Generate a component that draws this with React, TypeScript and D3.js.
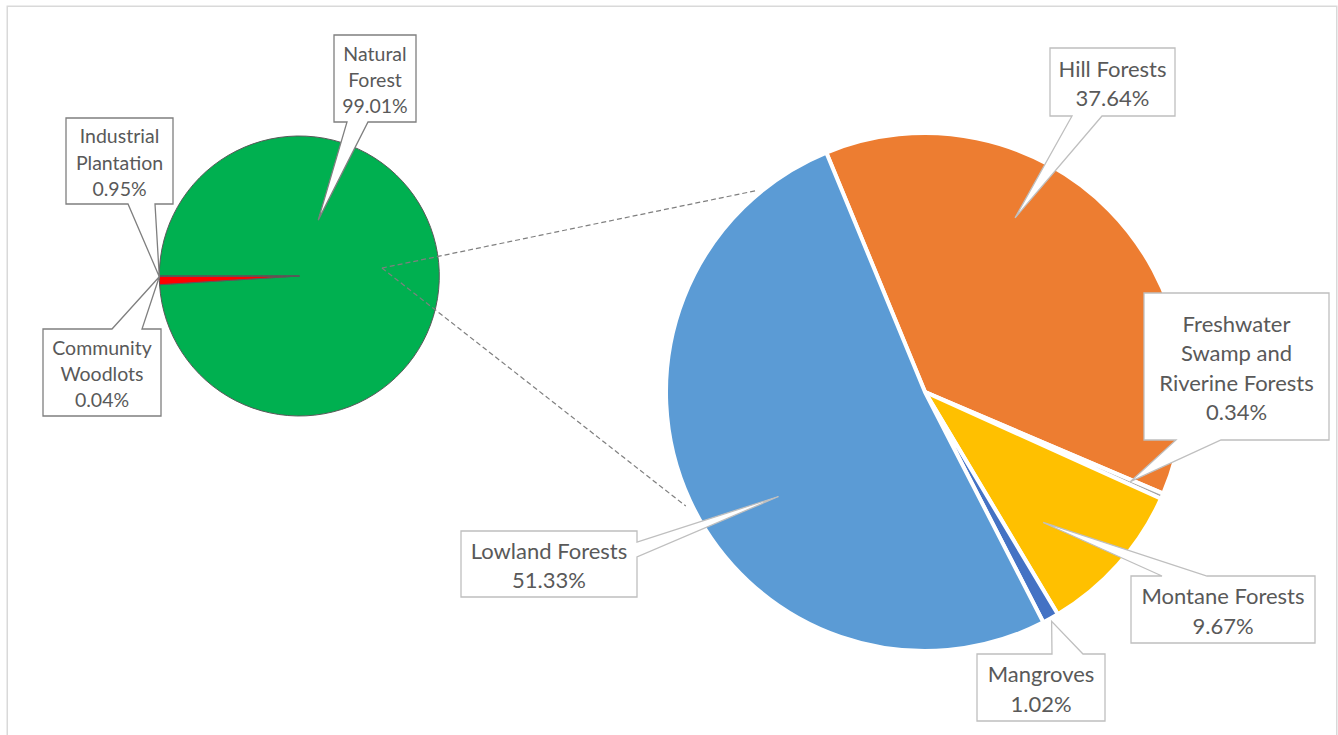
import React, { useEffect } from "react";
import * as d3 from "d3";

// ---------- data ----------
const smallCategories = ["Natural Forest", "Industrial Plantation", "Community Woodlots"];
const smallValues = [99.01, 0.95, 0.04];
const smallLabelLines = [["Natural", "Forest"], ["Industrial", "Plantation"], ["Community", "Woodlots"]];

const bigCategories = ["Hill Forests", "Freshwater Swamp and Riverine Forests", "Montane Forests", "Mangroves", "Lowland Forests"];
const bigValues = [37.64, 0.34, 9.67, 1.02, 51.33];
const bigLabelLines = [["Hill Forests"], ["Freshwater", "Swamp and", "Riverine Forests"], ["Montane Forests"], ["Mangroves"], ["Lowland Forests"]];

// ---------- styles / layout ----------
const smallColors = ["#00B050", "#FF0000", "#7F7F7F"];
const bigColors = ["#ED7D31", "#A5A5A5", "#FFC000", "#4472C4", "#5B9BD5"];

const W = 1338, H = 735;
const SMALL = { cx: 299.3, cy: 276, r: 140, start: 270 };
const BIG = { cx: 925, cy: 392, r: 259, start: -22.4 };
const FONT = "Lato, 'Open Sans', sans-serif";
const TEXT_COLOR = "#595959";

type Box = { x: number; y: number; w: number; h: number; side: string; b1: number; b2: number; tip: [number, number] };

// tip given in polar coords [angleDeg, radius] relative to the pie centre
const smallBoxes: Box[] = [
  { x: 334, y: 35, w: 82, h: 87, side: "bottom", b1: 347, b2: 368, tip: [18.7, 59] },
  { x: 66, y: 118, w: 107, h: 86, side: "bottom", b1: 128, b2: 155, tip: [269.7, 140] },
  { x: 43, y: 329, w: 118, h: 87, side: "top", b1: 112, b2: 142, tip: [269.7, 140] },
];
const bigBoxes: Box[] = [
  { x: 1050, y: 48, w: 125, h: 68, side: "bottom", b1: 1072, b2: 1102, tip: [27.35, 196] },
  { x: 1144, y: 293, w: 185, h: 147, side: "bottom", b1: 1176, b2: 1221, tip: [113.6, 224] },
  { x: 1131, y: 576, w: 184, h: 67, side: "top", b1: 1162, b2: 1207, tip: [137.85, 176] },
  { x: 977, y: 654, w: 128, h: 67, side: "top", b1: 1052, b2: 1083, tip: [151.1, 262] },
  { x: 461, y: 531, w: 176, h: 66, side: "right", b1: 542, b2: 557, tip: [234.5, 180] },
];

const rad = (d: number) => (d * Math.PI) / 180;

function polar(c: { cx: number; cy: number }, a: number, r: number): [number, number] {
  const [x, y] = d3.pointRadial(rad(a), r);
  return [c.cx + x, c.cy + y];
}

function calloutPath(b: Box, tip: [number, number]) {
  const x0 = b.x, y0 = b.y, x1 = b.x + b.w, y1 = b.y + b.h;
  const p = d3.path();
  if (b.side === "bottom") {
    p.moveTo(x0, y0); p.lineTo(x1, y0); p.lineTo(x1, y1); p.lineTo(b.b2, y1);
    p.lineTo(tip[0], tip[1]); p.lineTo(b.b1, y1); p.lineTo(x0, y1); p.closePath();
  } else if (b.side === "top") {
    p.moveTo(x0, y0); p.lineTo(b.b1, y0); p.lineTo(tip[0], tip[1]); p.lineTo(b.b2, y0);
    p.lineTo(x1, y0); p.lineTo(x1, y1); p.lineTo(x0, y1); p.closePath();
  } else {
    p.moveTo(x0, y0); p.lineTo(x1, y0); p.lineTo(x1, b.b1); p.lineTo(tip[0], tip[1]);
    p.lineTo(x1, b.b2); p.lineTo(x1, y1); p.lineTo(x0, y1); p.closePath();
  }
  return p.toString();
}

function Callout({ box, center, lines, value, fontSize, lh, stroke }: any) {
  const tip = polar(center, box.tip[0], box.tip[1]);
  const all = [...lines, `${value.toFixed(2)}%`];
  const cx = box.x + box.w / 2;
  const cy = box.y + box.h / 2;
  return (
    <g>
      <path d={calloutPath(box, tip)} fill="#FFFFFF" stroke={stroke} strokeWidth={1.3} strokeLinejoin="miter" />
      {all.map((t: string, i: number) => (
        <text key={i} x={cx} y={cy + (i - (all.length - 1) / 2) * lh + 1} textAnchor="middle"
          dominantBaseline="central" fontFamily={FONT} fontSize={fontSize} fill={TEXT_COLOR}>{t}</text>
      ))}
    </g>
  );
}

export default function App() {
  useEffect(() => {
    document.body.style.margin = "0";
  }, []);

  const smallPie = d3.pie<number>().sort(null).value((d) => d)
    .startAngle(rad(SMALL.start)).endAngle(rad(SMALL.start + 360))(smallValues);
  const bigPie = d3.pie<number>().sort(null).value((d) => d)
    .startAngle(rad(BIG.start)).endAngle(rad(BIG.start + 360))(bigValues);
  const smallArc = d3.arc<d3.PieArcDatum<number>>().innerRadius(0).outerRadius(SMALL.r);
  const bigArc = d3.arc<d3.PieArcDatum<number>>().innerRadius(0).outerRadius(BIG.r);

  const linkStart = polar(SMALL, 84.5, 83);
  const linkEnds = [polar(BIG, 320.35, 262), polar(BIG, 244.5, 265)];

  return (
    <svg width={W} height={H} style={{ display: "block" }} xmlns="http://www.w3.org/2000/svg">
      <rect x={0} y={0} width={W} height={H} fill="#FFFFFF" />
      <rect x={7.25} y={6.25} width={1329.5} height={760} fill="none" stroke="#D9D9D9" strokeWidth={1.5} />

      <g transform={`translate(${SMALL.cx},${SMALL.cy})`}>
        {smallPie.map((d, i) => (
          <path key={smallCategories[i]} d={smallArc(d) || ""} fill={smallColors[i]} stroke="#595959" strokeWidth={1} />
        ))}
      </g>

      <g transform={`translate(${BIG.cx},${BIG.cy})`}>
        {bigPie.map((d, i) => (
          <path key={bigCategories[i]} d={bigArc(d) || ""} fill={bigColors[i]} stroke="#FFFFFF" strokeWidth={4} strokeLinejoin="round" />
        ))}
      </g>

      {linkEnds.map((e, i) => (
        <line key={i} x1={linkStart[0]} y1={linkStart[1]} x2={e[0]} y2={e[1]} stroke="#7F7F7F" strokeWidth={1.2} strokeDasharray="5,3" />
      ))}

      {smallBoxes.map((b, i) => (
        <Callout key={smallCategories[i]} box={b} center={SMALL} lines={smallLabelLines[i]} value={smallValues[i]}
          fontSize={19.5} lh={26.4} stroke="#7F7F7F" />
      ))}
      {bigBoxes.map((b, i) => (
        <Callout key={bigCategories[i]} box={b} center={BIG} lines={bigLabelLines[i]} value={bigValues[i]}
          fontSize={22} lh={29.2} stroke="#BFBFBF" />
      ))}
    </svg>
  );
}
